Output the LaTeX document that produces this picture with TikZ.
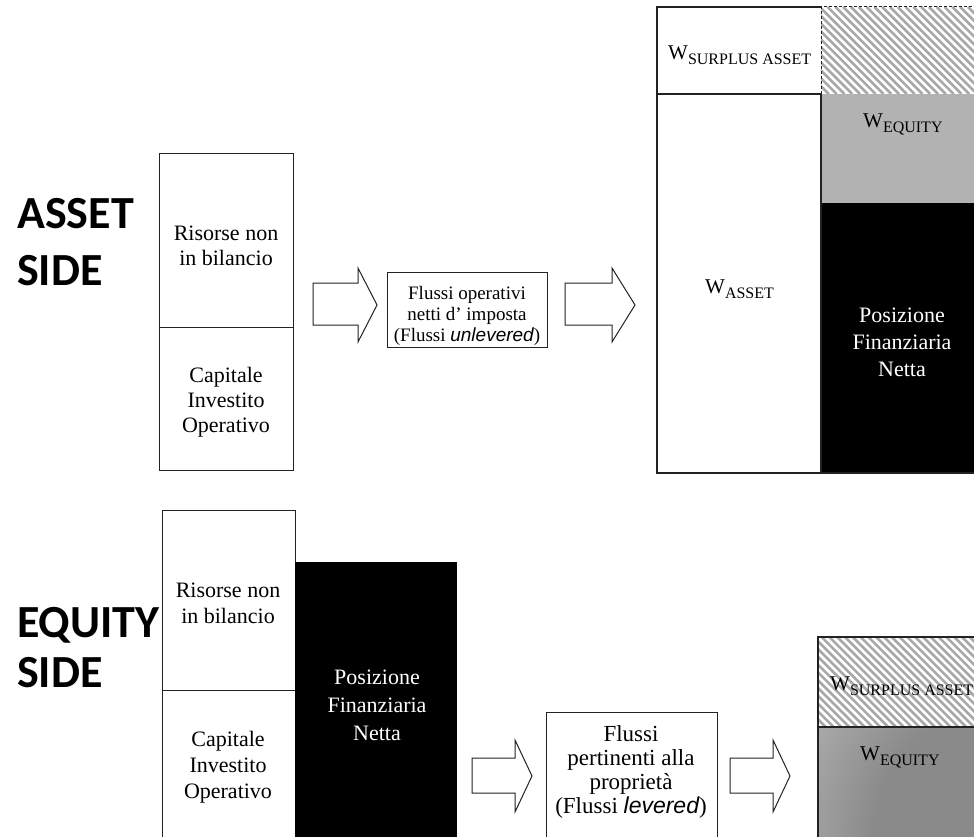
\documentclass[tikz,border=0pt]{standalone}
\usepackage{fontspec}
\setmainfont{Liberation Serif}
\newfontfamily\sidefont{Carlito}
\newfontfamily\sansfam{Liberation Sans}
\definecolor{boxgray}{HTML}{B2B2B2}
\definecolor{hatchgray}{HTML}{A8A8A8}
\definecolor{darkgray}{HTML}{8A8A8A}
\definecolor{edge}{HTML}{222222}
\pgfdeclareradialshading{cornershade}{\pgfpointorigin}{%
  color(0bp)=(darkgray); color(14bp)=(darkgray); color(26bp)=(boxgray); color(50bp)=(boxgray)}
% W with a large uppercase subscript
\newcommand{\wsub}[1]{{\fontsize{21}{24}\selectfont W}\raisebox{-5pt}{\fontsize{16}{18}\selectfont #1}}
% diagonal stripes inside a rectangle (x1,y1,x2,y2), y growing downwards
\newcommand{\hatchfill}[4]{%
  \begin{scope}
    \clip (#1,#2) rectangle (#3,#4);
    \pgfmathsetmacro{\hh}{#4-#2}
    \pgfmathsetmacro{\ww}{#3-#1+#4-#2}
    \foreach \k in {0,7.8,...,\ww} \draw[hatchline] ({#1-\hh+\k},#2) -- ++(\hh,\hh);
  \end{scope}}
\begin{document}
\begin{tikzpicture}[x=1pt,y=-1pt,
  box/.style={draw=edge, line width=1.1pt, inner sep=0pt, anchor=north west},
  txt/.style={align=center, inner sep=0pt, font=\fontsize{22}{25}\selectfont},
  wlab/.style={anchor=base west, inner sep=0pt},
  sidelab/.style={anchor=base west, inner sep=0pt, font=\sidefont\bfseries\fontsize{46}{50}\selectfont},
  hatchline/.style={draw=hatchgray, line width=2.6pt},
  blockarrow/.style={draw=edge, line width=1pt, fill=white, line join=miter},
  frame/.style={draw=edge, line width=1.1pt},
  dashframe/.style={draw=edge, line width=1pt, dash pattern=on 3pt off 2pt}]
\path[use as bounding box] (0,0) rectangle (974,837);
\clip (0,0) rectangle (974,837);

% ---------------- asset side ----------------
\node[sidelab] (as1) at (17,228) {ASSET};
\node[sidelab] (as2) at (17,285) {SIDE};

\node[box, minimum width=134, minimum height=174] (aRis) at (159,153) {};
\node[box, minimum width=134, minimum height=143] (aCap) at (159,327) {};
\node[txt] (aRisT) at (226,246) {Risorse non\\in bilancio};
\node[txt] (aCapT) at (226,402) {Capitale\\Investito\\Operativo};

\draw[blockarrow] (313,283) -- (358,283) -- (358,268) -- (377,305) -- (358,342) -- (358,325) -- (313,325) -- cycle;

\node[box, minimum width=160, minimum height=75] (fluxU) at (387,272) {};
\node[txt, font=\fontsize{19}{21}\selectfont] (fluxUT) at (467,316)
  {Flussi operativi\\netti d’ imposta\\(Flussi {\sansfam\itshape unlevered})};

\draw[blockarrow] (565,283) -- (612,283) -- (612,268) -- (635,305) -- (612,342) -- (612,325) -- (565,325) -- cycle;

% value split
\fill[boxgray] (821,94) rectangle (980,203);
\fill[black] (821,203) rectangle (980,473);
\hatchfill{821}{7}{980}{94}
\draw[frame] (821,7) -- (657,7) -- (657,473) -- (980,473);
\draw[frame] (657,94) -- (821,94) -- (821,473);
\draw[dashframe] (821,94) -- (821,7) -- (980,7);

\node[wlab] (wSurA) at (668,60) {\wsub{SURPLUS ASSET}};
\node[wlab] (wEqA) at (863,128) {\wsub{EQUITY}};
\node[wlab] (wAs) at (705,293) {\wsub{ASSET}};
\node[txt, text=white, font=\fontsize{22}{27}\selectfont] (pfnA) at (902,342) {Posizione\\Finanziaria\\Netta};

% ---------------- equity side ----------------
\node[sidelab] (es1) at (17,637) {EQUITY};
\node[sidelab] (es2) at (17,687) {SIDE};

\node[box, minimum width=133, minimum height=180] (eRis) at (162,510) {};
\node[box, minimum width=133, minimum height=160] (eCap) at (162,690) {};
\fill[black] (295,562) rectangle (457,850);
\node[txt, font=\fontsize{22}{26}\selectfont] (eRisT) at (228,603) {Risorse non\\in bilancio};
\node[txt, font=\fontsize{22}{26}\selectfont] (eCapT) at (228,767) {Capitale\\Investito\\Operativo};
\node[txt, text=white, font=\fontsize{22}{28}\selectfont] (pfnE) at (377,705) {Posizione\\Finanziaria\\Netta};

\draw[blockarrow] (472,758) -- (515,758) -- (515,740) -- (532,776) -- (515,812) -- (515,793) -- (472,793) -- cycle;

\node[box, minimum width=171, minimum height=140] (fluxL) at (546,712) {};
\node[txt, font=\fontsize{23}{24}\selectfont] (fluxLT) at (631,772)
  {Flussi\\pertinenti alla\\proprietà\\(Flussi {\sansfam\itshape levered})};

\draw[blockarrow] (730,758) -- (773,758) -- (773,740) -- (790,776) -- (773,812) -- (773,793) -- (730,793) -- cycle;

\fill[boxgray] (818,727) rectangle (980,850);
\begin{scope}
  \clip (818,727) rectangle (980,850);
  \shade[shading=cornershade] (1003,835) circle (230);
\end{scope}
\hatchfill{818}{637}{980}{727}
\draw[frame] (818,850) -- (818,637) -- (980,637);
\draw[frame] (818,727) -- (980,727);

\node[wlab] (wSurE) at (830,690) {\wsub{SURPLUS ASSET}};
\node[wlab] (wEqE) at (860,760) {\wsub{EQUITY}};
\end{tikzpicture}
\end{document}
